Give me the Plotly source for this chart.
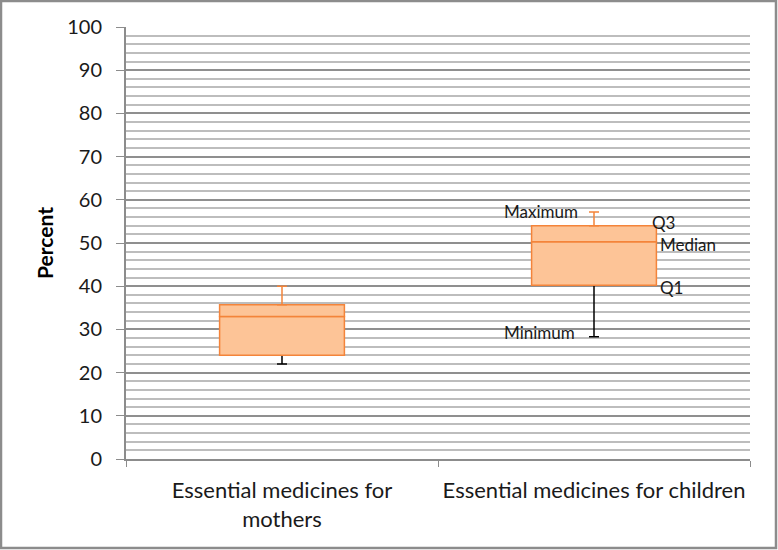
import plotly.graph_objects as go

categories = ["Essential medicines for<br>mothers", "Essential medicines for children"]
minimum = [22.0, 28.3]
q1 = [24.0, 40.2]
median = [33.0, 50.3]
q3 = [35.7, 54.0]
maximum = [40.0, 57.2]

orange = "#f4843a"
fill = "#fdc497"

# lower part: invisible bar up to Q1, carries the black lower whisker
low_err = [a - b for a, b in zip(q1, minimum)]
fig = go.Figure()
fig.add_trace(go.Bar(
    x=categories, y=q1, base=[0, 0], width=0.4,
    marker=dict(color="rgba(0,0,0,0)", line=dict(width=0)),
    error_y=dict(type="data", symmetric=False, array=[0, 0], arrayminus=low_err,
                 color="black", thickness=1.5, width=5),
    hoverinfo="skip", showlegend=False))
fig.add_trace(go.Bar(
    x=categories, y=[m - a for m, a in zip(median, q1)], base=q1, width=0.4,
    marker=dict(color=fill, line=dict(color=orange, width=1.5)), showlegend=False))
fig.add_trace(go.Bar(
    x=categories, y=[c - m for c, m in zip(q3, median)], base=median, width=0.4,
    marker=dict(color=fill, line=dict(color=orange, width=1.5)),
    error_y=dict(type="data", symmetric=False, array=[a - c for a, c in zip(maximum, q3)],
                 arrayminus=[0, 0], color=orange, thickness=1.5, width=5),
    showlegend=False))

labels = [("Maximum", maximum[1], "right", -14, 0),
          ("Q3", q3[1], "left", 56, 3),
          ("Median", median[1], "left", 64, -3),
          ("Q1", q1[1], "left", 64, -2),
          ("Minimum", minimum[1], "right", -17, 4)]
for txt, yv, anc, xs, ys in labels:
    fig.add_annotation(x=categories[1], y=yv, text=txt, showarrow=False,
                       xanchor=anc, yanchor="middle", xshift=xs, yshift=ys,
                       font=dict(size=17, color="#1a1a1a"))

L, R, T, B = 126, 28, 27, 91
W, H = 778, 550
pw, ph = W - L - R, H - T - B
fig.add_shape(type="rect", xref="paper", yref="paper",
              x0=-(L - 1) / pw, x1=1 + (R - 2) / pw, y0=-(B - 2) / ph, y1=1 + (T - 1) / ph,
              line=dict(color="#8c8c8c", width=2.5), layer="below")

fig.update_layout(
    width=W, height=H, barmode="overlay",
    margin=dict(l=L, r=R, t=T, b=B),
    paper_bgcolor="white", plot_bgcolor="white",
    font=dict(family="Lato, Open Sans, sans-serif", color="#1a1a1a", size=20),
    xaxis=dict(showgrid=False, showline=True, linecolor="#8c8c8c", linewidth=2,
               ticks="outside", tickson="boundaries", ticklen=6, tickcolor="#8c8c8c",
               ticklabelstandoff=11, tickfont=dict(size=22, color="#1a1a1a")),
    yaxis=dict(range=[0, 100], dtick=10, showgrid=True, gridcolor="#8f8f8f", gridwidth=2,
               showline=True, linecolor="#8c8c8c", linewidth=2, ticks="outside",
               ticklen=8, tickcolor="#8c8c8c", zeroline=False, ticklabelstandoff=10,
               minor=dict(dtick=2, showgrid=True, gridcolor="#bdbdbd", gridwidth=2),
               tickfont=dict(size=20, color="#1a1a1a"),
               title=dict(text="<b>Percent</b>", font=dict(size=21, color="black"), standoff=8)),
)

fig.write_html("out.html", config={"displayModeBar": False},
               post_script="document.body.style.margin='0';")
